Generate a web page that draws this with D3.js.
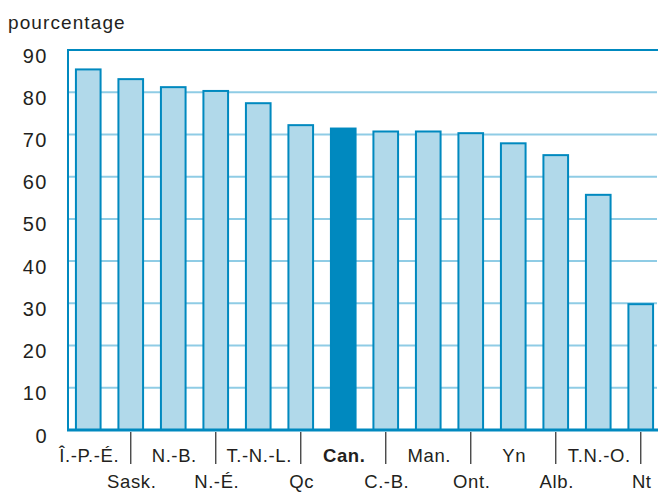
<!DOCTYPE html>
<html>
<head>
<meta charset="utf-8">
<script src="https://cdn.jsdelivr.net/npm/d3@7/dist/d3.min.js"></script>
<style>
body{margin:0;background:#fff}
text{font-family:"Liberation Sans",Arial,sans-serif;fill:#231f20}
</style>
</head>
<body>
<svg></svg>
<script>
// provinces / territoires, dans l'ordre du graphique
var provinces = ["Î.-P.-É.","Sask.","N.-B.","N.-É.","T.-N.-L.","Qc","Can.","C.-B.","Man.","Ont.","Yn","Alb.","T.N.-O.","Nt"];
// pourcentages
var pourcentages = [85.4,83.1,81.2,80.3,77.4,72.2,71.4,70.7,70.7,70.3,67.9,65.1,55.7,29.8];
var yTicks = [0,10,20,30,40,50,60,70,80,90];
var ensemble = "Can.";

var screen = {width:658,height:492}
var dark = "#0089bf", light = "#b1d9ea", grid = "#8fcce5";

var svg = d3.select("svg")
    .attr("width",screen.width)
    .attr("height",screen.height)

var xScale = d3.scaleBand()
    .domain(provinces)
    .range([67,662])
    .paddingInner(0.42)
    .paddingOuter(0.21)

var yScale = d3.scaleLinear()
    .domain([0,90])
    .range([430,50])

var data = provinces.map(function(p,i){ return {name:p,value:pourcentages[i],index:i} })

//gridlines
svg.append("g")
    .selectAll("line")
    .data(yTicks.filter(function(t){ return t>0 && t<90 }))
    .enter()
    .append("line")
    .attr("x1",68)
    .attr("x2",657)
    .attr("y1",function(t){ return yScale(t) })
    .attr("y2",function(t){ return yScale(t) })
    .attr("stroke",grid)
    .attr("stroke-width",2)

//bars
svg.append("g")
    .selectAll("rect")
    .data(data)
    .enter()
    .append("rect")
    .attr("x",function(d){ return xScale(d.name) })
    .attr("y",function(d){ return yScale(d.value) })
    .attr("width",xScale.bandwidth())
    .attr("height",function(d){ return yScale(0)-yScale(d.value) })
    .attr("fill",function(d){ return d.name==ensemble ? dark : light })
    .attr("stroke",dark)
    .attr("stroke-width",2)

//frame
svg.append("line").attr("x1",67).attr("x2",658).attr("y1",yScale(90)).attr("y2",yScale(90))
    .attr("stroke",dark).attr("stroke-width",2)
svg.append("line").attr("x1",68).attr("x2",68).attr("y1",49).attr("y2",431)
    .attr("stroke",dark).attr("stroke-width",2)
svg.append("line").attr("x1",67).attr("x2",658).attr("y1",yScale(0)).attr("y2",yScale(0))
    .attr("stroke",dark).attr("stroke-width",3)

//y axis labels
var yAxis = d3.axisLeft(yScale).tickValues(yTicks).tickSize(0).tickPadding(0)
var yg = svg.append("g")
    .attr("transform","translate(48,0)")
    .call(yAxis)
yg.select(".domain").remove()
yg.selectAll("text")
    .attr("dy",null)
    .attr("y",12)
    .attr("x",0)
    .attr("fill","#231f20")
    .style("font-size","20px")
    .style("letter-spacing","1.5px")
    .style("font-family",null)

//x ticks between pairs
svg.append("g")
    .selectAll("line")
    .data(data.filter(function(d){ return d.index%2==1 }))
    .enter()
    .append("line")
    .attr("x1",function(d){ return xScale(d.name)+xScale.bandwidth()/2 })
    .attr("x2",function(d){ return xScale(d.name)+xScale.bandwidth()/2 })
    .attr("y1",432)
    .attr("y2",464)
    .attr("stroke","#3a3a3a")
    .attr("stroke-width",1.3)

//x labels, two rows
svg.append("g")
    .selectAll("text")
    .data(data)
    .enter()
    .append("text")
    .text(function(d){ return d.name })
    .attr("x",function(d){ return xScale(d.name)+xScale.bandwidth()/2+1 })
    .attr("y",function(d){ return d.index%2==0 ? 462 : 488 })
    .attr("text-anchor","middle")
    .style("font-size","18.5px")
    .style("letter-spacing","0.6px")
    .style("font-weight",function(d){ return d.name==ensemble ? "bold" : "normal" })

svg.append("text")
    .text("pourcentage")
    .attr("x",8)
    .attr("y",29)
    .style("font-size","19px")
    .style("letter-spacing","1.1px")
</script>
</body>
</html>
